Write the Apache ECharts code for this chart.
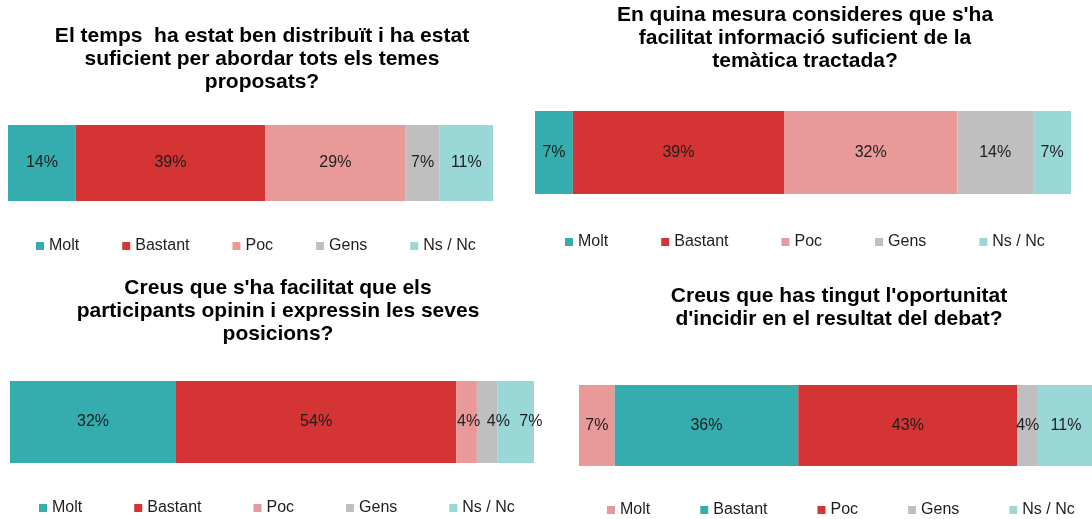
<!DOCTYPE html>
<html>
<head>
<meta charset="utf-8">
<script src="https://cdn.jsdelivr.net/npm/echarts@6/dist/echarts.min.js"></script>
<style>
html, body { margin: 0; padding: 0; width: 1092px; height: 519px; overflow: hidden; background: #fff; }
.chart { position: absolute; }
</style>
</head>
<body>
<div id="temps-chart" class="chart" style="left:0;top:0;width:524px;height:260px"></div>
<div id="info-chart" class="chart" style="left:530px;top:0;width:550px;height:260px"></div>
<div id="opinio-chart" class="chart" style="left:0;top:260px;width:556px;height:259px"></div>
<div id="incidir-chart" class="chart" style="left:578px;top:260px;width:522px;height:259px"></div>

<script>
// respostes (mateixes categories a tots els gràfics)
const categories = ['Molt', 'Bastant', 'Poc', 'Gens', 'Ns / Nc'];

const tempsValues = [14, 39, 29, 7, 11];
const infoValues = [7, 39, 32, 14, 7];
const opinioValues = [32, 54, 4, 4, 7];
const incidirValues = [7, 36, 43, 4, 11];

const tempsTitle = "El temps  ha estat ben distribuït i ha estat\nsuficient per abordar tots els temes\nproposats?";
const infoTitle = "En quina mesura consideres que s'ha\nfacilitat informació suficient de la\ntemàtica tractada?";
const opinioTitle = "Creus que s'ha facilitat que els\nparticipants opinin i expressin les seves\nposicions?";
const incidirTitle = "Creus que has tingut l'oportunitat\nd'incidir en el resultat del debat?";

const TEAL = '#35adae';
const RED = '#d43434';
const PINK = '#ea9999';
const GREY = '#bfbfbf';
const CYAN = '#9ad8d8';
const FONT = "'Liberation Sans', Arial, sans-serif";

function renderChart(chartId, cfg) {
  const chart = echarts.init(document.getElementById(chartId));
  const total = cfg.values.reduce((a, b) => a + b, 0);
  const series = categories.map((name, i) => ({
    name: name,
    type: 'bar',
    stack: 'total',
    barWidth: '100%',
    itemStyle: { color: cfg.colors[i] },
    label: {
      show: true,
      position: 'inside',
      formatter: '{c}%',
      fontFamily: FONT,
      fontSize: 16,
      color: '#1e1e1e',
      offset: cfg.offsets ? cfg.offsets[i] : [0, 0]
    },
    data: [cfg.values[i]]
  }));
  const option = {
    animation: false,
    title: {
      text: cfg.title,
      left: 'center',
      top: cfg.titleTop,
      padding: 0,
      textStyle: { fontFamily: FONT, fontSize: 21, fontWeight: 'bold', color: '#000', lineHeight: 23 }
    },
    legend: {
      left: cfg.legendLeft,
      top: cfg.legendTop,
      padding: 0,
      itemGap: cfg.legendGap,
      itemWidth: 8,
      itemHeight: 8,
      icon: 'rect',
      selectedMode: false,
      textStyle: { fontFamily: FONT, fontSize: 16, color: '#1e1e1e', lineHeight: 18 },
      data: categories.map((name, i) => ({ name: name, itemStyle: { color: cfg.colors[i] } }))
    },
    grid: cfg.grid,
    xAxis: { type: 'value', min: 0, max: total, show: false },
    yAxis: { type: 'category', data: [''], show: false },
    series: series
  };
  chart.setOption(option);
  return chart;
}

const colorsStd = [TEAL, RED, PINK, GREY, CYAN];

renderChart('temps-chart', {
  title: tempsTitle, values: tempsValues, colors: colorsStd, titleTop: 24.5,
  grid: { left: 8, right: 31, top: 125, height: 76 },
  legendLeft: 36, legendTop: 237, legendGap: 43
});
renderChart('info-chart', {
  title: infoTitle, values: infoValues, colors: colorsStd, titleTop: 4,
  grid: { left: 5, right: 9, top: 111, height: 83 },
  legendLeft: 35, legendTop: 233, legendGap: 53
});
renderChart('opinio-chart', {
  title: opinioTitle, values: opinioValues, colors: colorsStd, titleTop: 16.5,
  grid: { left: 10, right: 22, top: 121, height: 82 },
  legendLeft: 39, legendTop: 239, legendGap: 52,
  offsets: [[0, 0], [0, 0], [2, 0], [11, 0], [15, 0]]
});
renderChart('incidir-chart', {
  title: incidirTitle, values: incidirValues, colors: [PINK, TEAL, RED, GREY, CYAN], titleTop: 25,
  grid: { left: 1, right: 6, top: 125, height: 81 },
  legendLeft: 29, legendTop: 241, legendGap: 50
});
</script>
</body>
</html>
